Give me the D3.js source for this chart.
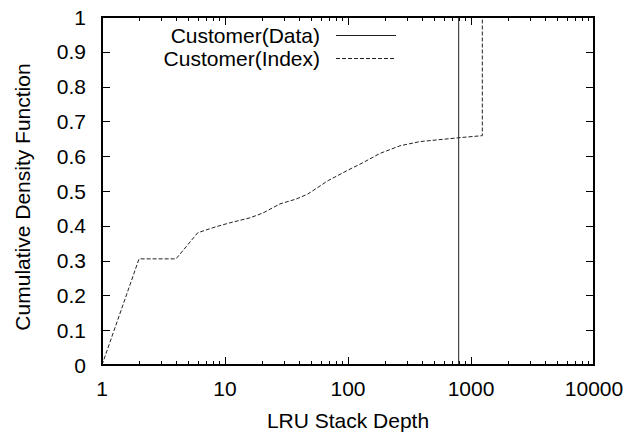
<!DOCTYPE html>
<html>
<head>
<meta charset="utf-8">
<script src="https://cdn.jsdelivr.net/npm/d3@7"></script>
<style>
  html, body { margin: 0; padding: 0; background: #fff; }
  svg text { font-family: "Liberation Sans", Arial, Helvetica, sans-serif; fill: #000; }
</style>
</head>
<body>
<svg id="chart" width="631" height="435"></svg>
<script>
// LRU stack depth vs. cumulative fraction of references
const indexDepth = [1, 2, 4, 6, 8.4, 10.8, 16, 20.4, 28, 38, 47, 69, 100, 130, 182, 265, 385, 794, 1236, 1236];
const indexCdf   = [0, 0.305, 0.305, 0.38, 0.397, 0.408, 0.423, 0.437, 0.463, 0.477, 0.491, 0.53, 0.56, 0.58, 0.608, 0.63, 0.642, 0.653, 0.659, 1];
const dataDepth  = [1, 794, 794];
const dataCdf    = [0, 0, 1];

const seriesNames = ["Customer(Data)", "Customer(Index)"];
const xTickValues = [1, 10, 100, 1000, 10000];
const yTickValues = [0, 0.1, 0.2, 0.3, 0.4, 0.5, 0.6, 0.7, 0.8, 0.9, 1];
const xTitle = "LRU Stack Depth";
const yTitle = "Cumulative Density Function";

const svg = d3.select("#chart");
const plotL = 102, plotR = 594, plotT = 17, plotB = 365;
const fs = 21;

const x = d3.scaleLog().domain([1, 10000]).range([plotL, plotR]);
const y = d3.scaleLinear().domain([0, 1]).range([plotB, plotT]);

// minor ticks on the log axis
const minorX = [];
for (let d = 1; d < 10000; d *= 10) for (let k = 2; k <= 9; k++) minorX.push(d * k);

const tickG = svg.append("g").attr("stroke", "#000").attr("stroke-width", 1);
xTickValues.forEach(v => {
  const px = Math.round(x(v)) + 0.5;
  tickG.append("line").attr("x1", px).attr("x2", px).attr("y1", plotB).attr("y2", plotB - 8);
  tickG.append("line").attr("x1", px).attr("x2", px).attr("y1", plotT).attr("y2", plotT + 8);
});
minorX.forEach(v => {
  const px = Math.round(x(v)) + 0.5;
  tickG.append("line").attr("x1", px).attr("x2", px).attr("y1", plotB).attr("y2", plotB - 4);
  tickG.append("line").attr("x1", px).attr("x2", px).attr("y1", plotT).attr("y2", plotT + 4);
});
yTickValues.forEach(v => {
  const py = Math.round(y(v)) + 0.5;
  tickG.append("line").attr("x1", plotL).attr("x2", plotL + 8).attr("y1", py).attr("y2", py);
  tickG.append("line").attr("x1", plotR).attr("x2", plotR - 8).attr("y1", py).attr("y2", py);
});

// tick labels
svg.append("g").selectAll("text").data(xTickValues).join("text")
  .attr("x", d => x(d)).attr("y", 396)
  .attr("text-anchor", "middle").attr("font-size", fs)
  .text(d => d);
svg.append("g").selectAll("text").data(yTickValues).join("text")
  .attr("x", 86).attr("y", d => y(d) + 7.5)
  .attr("text-anchor", "end").attr("font-size", fs)
  .text(d => d3.format("~g")(d));

// axis titles
svg.append("text").attr("x", (plotL + plotR) / 2).attr("y", 428)
  .attr("text-anchor", "middle").attr("font-size", fs).text(xTitle);
svg.append("text").attr("transform", `translate(30,${(plotT + plotB) / 2 + 6}) rotate(-90)`)
  .attr("text-anchor", "middle").attr("font-size", fs).text(yTitle);

// series
const line = d3.line().x(d => x(d[0])).y(d => y(d[1]));
svg.append("path")
  .datum(d3.zip(dataDepth, dataCdf))
  .attr("d", line).attr("fill", "none")
  .attr("stroke", "#222").attr("stroke-width", 1);
svg.append("path")
  .datum(d3.zip(indexDepth, indexCdf))
  .attr("d", line).attr("fill", "none")
  .attr("stroke", "#222").attr("stroke-width", 1)
  .attr("stroke-dasharray", "4,2");

// legend
const legend = svg.append("g");
seriesNames.forEach((name, i) => {
  const ly = 35 + i * 23;
  legend.append("text").attr("x", 320).attr("y", ly + 7.5)
    .attr("text-anchor", "end").attr("font-size", fs).text(name);
  legend.append("line").attr("x1", 336).attr("x2", 396)
    .attr("y1", ly + 0.5).attr("y2", ly + 0.5)
    .attr("stroke", "#222").attr("stroke-width", 1)
    .attr("stroke-dasharray", i === 1 ? "4,2" : null);
});

// frame
svg.append("rect").attr("x", plotL).attr("y", plotT)
  .attr("width", plotR - plotL).attr("height", plotB - plotT)
  .attr("fill", "none").attr("stroke", "#000").attr("stroke-width", 2);
</script>
</body>
</html>
